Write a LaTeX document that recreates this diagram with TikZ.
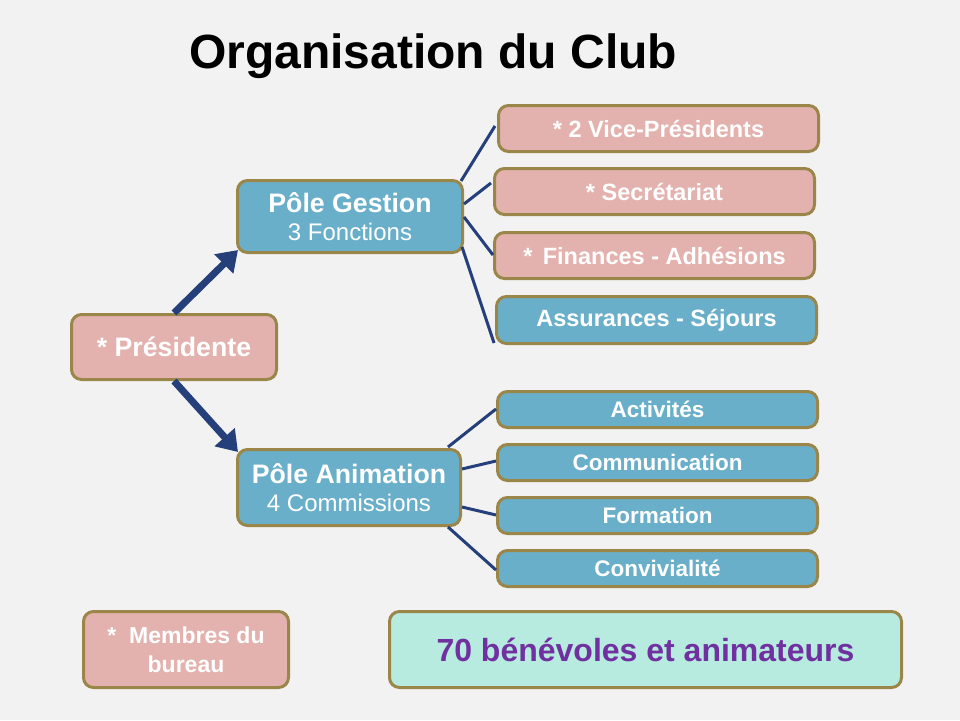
\documentclass[tikz,border=0pt]{standalone}
\usepackage{fontspec}
\setmainfont{Liberation Sans}
\usetikzlibrary{arrows.meta}
\definecolor{bgc}{HTML}{F2F2F2}
\definecolor{pinkc}{HTML}{E4B2AE}
\definecolor{bluec}{HTML}{6AAFC9}
\definecolor{borderc}{HTML}{9B8649}
\definecolor{navyc}{HTML}{243F7A}
\definecolor{mintc}{HTML}{B7EBE0}
\definecolor{purplec}{HTML}{7030A0}
\begin{document}
\begin{tikzpicture}[x=1pt,y=-1pt,
  box/.style={draw=borderc, line width=3pt, rounded corners=10pt, text=white,
    font=\fontsize{26.7}{28}\selectfont\bfseries, align=center, inner sep=0pt},
  pinkbox/.style={box, fill=pinkc},
  bluebox/.style={box, fill=bluec},
  smallbox/.style={minimum width=320pt, font=\fontsize{23.5}{28}\selectfont\bfseries},
  link/.style={draw=navyc, line width=3pt},
  bigarrow/.style={draw=navyc, line width=7pt, -{Triangle[length=20pt,width=26pt]}}
]
\fill[bgc] (0,0) rectangle (960,720);
\useasboundingbox (0,0) rectangle (960,720);

\node[font=\fontsize{48}{52}\selectfont\bfseries, anchor=base] (title) at (433,68) {Organisation du Club};

\node[pinkbox, minimum width=205pt, minimum height=65pt] (pres) at (174,347) {* Présidente};
\node[bluebox, minimum width=225pt, minimum height=72pt] (pg) at (350,216.5)
  {Pôle Gestion\\{\fontsize{24}{28}\selectfont\mdseries 3 Fonctions}};
\node[bluebox, minimum width=223pt, minimum height=76pt] (pa) at (349,487.5)
  {Pôle Animation\\{\fontsize{24}{29}\selectfont\mdseries 4 Commissions}};

\node[pinkbox, smallbox, minimum height=46pt] (vp) at (658.5,128.5) {* 2 Vice-Présidents};
\node[pinkbox, smallbox, minimum height=46pt] (sec) at (654.5,191.5) {* Secrétariat};
\node[pinkbox, smallbox, minimum height=46pt] (fin) at (654.5,255.5) {*\ \,Finances - Adhésions};
\node[bluebox, smallbox, minimum height=47pt] (ass) at (656.5,320) {Assurances - Séjours};

\node[bluebox, smallbox, minimum height=36pt, font=\fontsize{22.5}{26}\selectfont\bfseries] (act) at (657.5,409.5) {Activités};
\node[bluebox, smallbox, minimum height=36pt, font=\fontsize{22.5}{26}\selectfont\bfseries] (com) at (657.5,462.5) {Communication};
\node[bluebox, smallbox, minimum height=36pt, font=\fontsize{22.5}{26}\selectfont\bfseries] (for) at (657.5,515.5) {Formation};
\node[bluebox, smallbox, minimum height=36pt, font=\fontsize{22.5}{26}\selectfont\bfseries] (con) at (657.5,568.5) {Convivialité};

\node[pinkbox, minimum width=205pt, minimum height=76pt, font=\fontsize{23}{29}\selectfont\bfseries] (mem) at (186,649.5) {*\ \ Membres du\\bureau};
\node[box, fill=mintc, text=purplec, minimum width=512pt, minimum height=76pt, font=\fontsize{32}{36}\selectfont\bfseries] (vol) at (645.5,649.5) {70 bénévoles et animateurs};

\draw[bigarrow] (pres.north) -- ([xshift=2pt,yshift=4pt]pg.south west);
\draw[bigarrow] (pres.south) -- ([xshift=2pt,yshift=-4pt]pa.north west);

\draw[link] ([xshift=-3pt,yshift=-2pt]pg.north east) -- ([xshift=-2pt,yshift=2.5pt]vp.west);
\draw[link] ([yshift=12.5pt]pg.east) -- ([xshift=-2pt,yshift=8.5pt]sec.west);
\draw[link] ([yshift=-0.5pt]pg.east) -- ([yshift=0.5pt]fin.west);
\draw[link] ([xshift=-2pt,yshift=-30.5pt]pg.east) -- ([xshift=-1pt,yshift=2pt]ass.south west);

\draw[link] ([xshift=-14pt,yshift=1pt]pa.north east) -- ([yshift=0.5pt]act.west);
\draw[link] ([yshift=18.5pt]pa.east) -- ([yshift=1.5pt]com.west);
\draw[link] ([yshift=-19.5pt]pa.east) -- ([yshift=0.5pt]for.west);
\draw[link] ([xshift=-14pt,yshift=0pt]pa.south east) -- ([yshift=-1.5pt]con.west);
\end{tikzpicture}
\end{document}
